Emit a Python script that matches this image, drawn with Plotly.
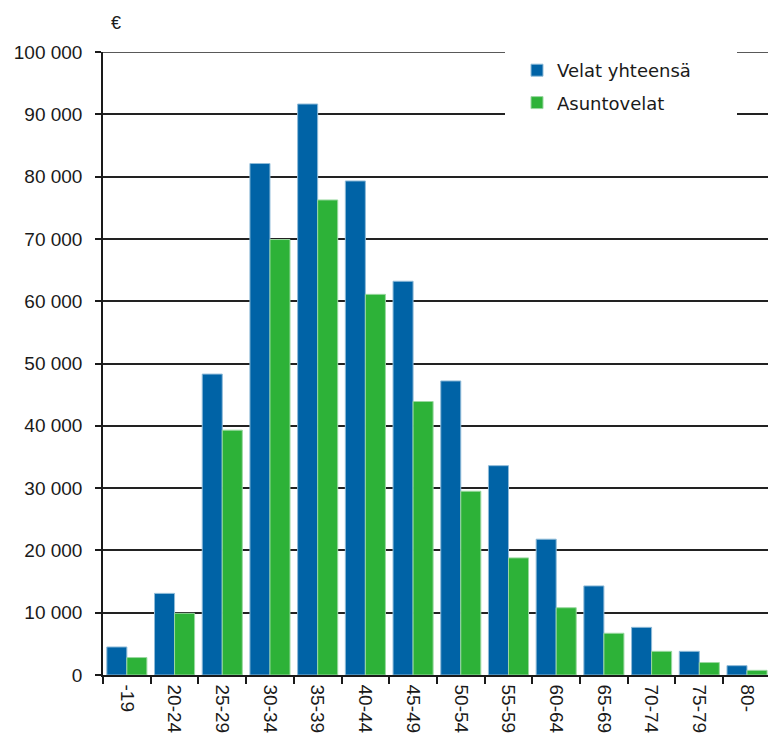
import plotly.graph_objects as go

# Age groups and average debts (euros)
age_groups = ["-19", "20-24", "25-29", "30-34", "35-39", "40-44", "45-49",
              "50-54", "55-59", "60-64", "65-69", "70-74", "75-79", "80-"]
total_debt = [4500, 13100, 48300, 82100, 91650, 79300, 63200,
              47200, 33600, 21800, 14300, 7650, 3800, 1500]
housing_debt = [2800, 9900, 39300, 69900, 76250, 61100, 43900,
                29500, 18800, 10800, 6700, 3800, 2000, 750]

series_names = ["Velat yhteensä", "Asuntovelat"]
series_colors = ["#0063a6", "#2db238"]
edge_colors = ["#8fbbd8", "#9ad8a0"]

W, H = 768, 735
L, R, T, B = 103, 0, 52, 60
plot_w = W - L - R
plot_h = H - T - B
Y_MAX = 100000
GRID_COLOR = "#222"

def px_x(px):
    return (px - L) / plot_w

def px_y(py):
    return (H - B - py) / plot_h

fig = go.Figure()
for i, (name, vals) in enumerate(zip(series_names, [total_debt, housing_debt])):
    fig.add_trace(go.Bar(
        x=age_groups, y=vals, name=name,
        marker=dict(color=series_colors[i],
                    line=dict(color=edge_colors[i], width=1)),
        legendgroup=name,
    ))

tick_font = dict(family="Liberation Sans, Arial, sans-serif", size=19, color="#1a1a1a")

fig.update_layout(
    width=W, height=H,
    margin=dict(l=L, r=R, t=T, b=B),
    paper_bgcolor="white", plot_bgcolor="white",
    barmode="group", bargap=0.16, bargroupgap=0,
    separators=", ",
    showlegend=True,
    legend=dict(
        x=px_x(517), y=px_y(52), xanchor="left", yanchor="top",
        bgcolor="rgba(0,0,0,0)", borderwidth=0,
        font=dict(family="DejaVu Sans, Verdana, sans-serif", size=18, color="#1a1a1a"),
        tracegroupgap=6,
    ),
    xaxis=dict(
        range=[-0.5, 13.44],
        tickangle=90, tickfont=tick_font,
        showline=True, linecolor="#1a1a1a", linewidth=1.5,
        ticks="outside", ticklen=7, tickcolor="#1a1a1a", tickwidth=1.5,
        tickson="boundaries", showgrid=False,
        ticklabelstandoff=4,
    ),
    yaxis=dict(
        range=[0, Y_MAX], tickvals=list(range(0, Y_MAX + 1, 10000)),
        tickformat=",d",
        tickfont=tick_font,
        showline=True, linecolor="#1a1a1a", linewidth=1.5,
        ticks="outside", ticklen=6, tickcolor="#1a1a1a", tickwidth=1.5,
        ticklabelstandoff=9,
        showgrid=True, gridcolor=GRID_COLOR, gridwidth=1.6,
        zeroline=False,
    ),
    shapes=[
        # top gridline at the upper end of the value axis
        dict(type="line", xref="paper", yref="y", layer="above",
             x0=0, x1=1, y0=Y_MAX, y1=Y_MAX,
             line=dict(color=GRID_COLOR, width=1.6)),
        # white panel behind the legend
        dict(type="rect", xref="paper", yref="paper", layer="above",
             x0=px_x(505), x1=px_x(737), y0=px_y(132), y1=px_y(40),
             fillcolor="white", line=dict(width=0)),
    ],
    annotations=[dict(
        text="€", xref="paper", yref="paper",
        x=px_x(116), y=px_y(23), xanchor="center", yanchor="middle",
        showarrow=False,
        font=dict(family="Liberation Sans, Arial, sans-serif", size=18, color="#1a1a1a"),
    )],
)

fig.write_html("out.html")
